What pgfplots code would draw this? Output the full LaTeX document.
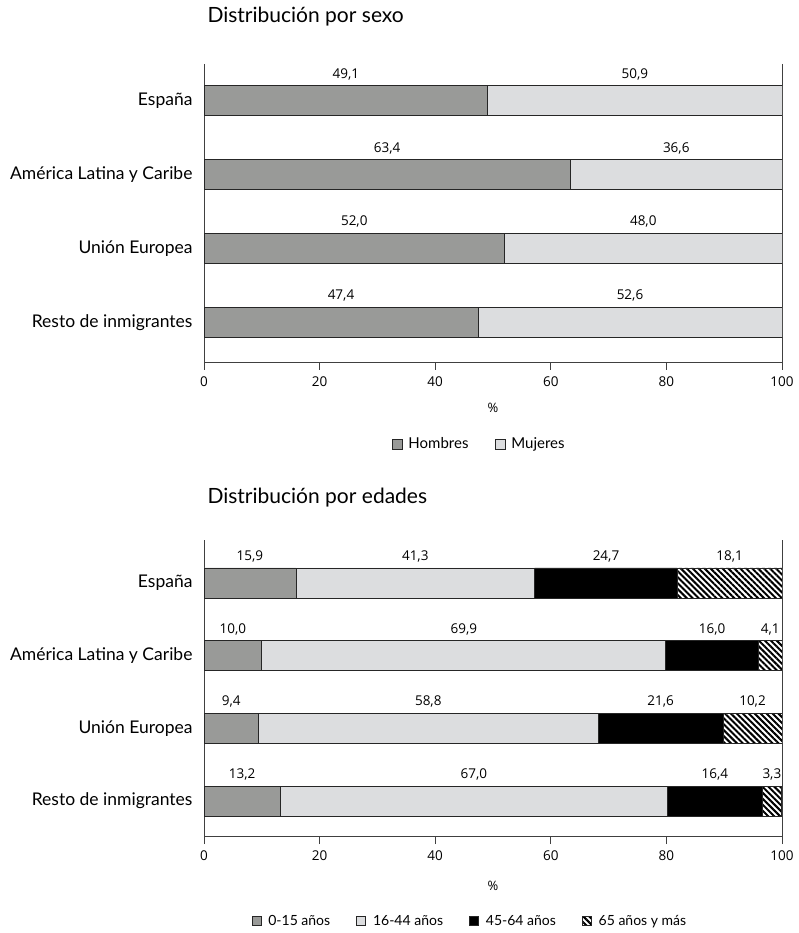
\documentclass[border=0pt]{standalone}
\usepackage{pgfplots}
\pgfplotsset{compat=1.18}
\usepackage{pgfplotstable}
\usepackage{fontspec}
\setmainfont{Lato}
\newfontfamily\numfont{Open Sans}
\usetikzlibrary{patterns.meta}

\definecolor{gmed}{RGB}{153,154,152}
\definecolor{glight}{RGB}{220,221,223}

% distribución por sexo (0 = España, arriba)
\pgfplotstableread{
y h m
0 49.1 50.9
1 63.4 36.6
2 52.0 48.0
3 47.4 52.6
}\sexo

% distribución por edades
\pgfplotstableread{
y a b c d
0 15.9 41.3 24.7 18.1
1 10.0 69.9 16.0 4.1
2 9.4 58.8 21.6 10.2
3 13.2 67.0 16.4 3.3
}\edad

\pgfplotsset{
  base/.style={
    width=578pt, height=298pt, scale only axis,
    xbar stacked, bar width=30pt,
    xmin=0, xmax=100, ymin=-0.5, ymax=3.54, y dir=reverse,
    axis x line*=bottom, axis y line*=left,
    axis line style={-, black!75, line width=0.8pt},
    xtick={0,20,...,100}, xtick align=outside, major tick length=8pt,
    xtick style={black!75, line width=0.8pt},
    extra x ticks={100}, extra x tick labels={},
    extra x tick style={grid=major, major grid style={black!75, line width=0.8pt}, tick style={draw=none}},
    ytick={0,1,2,3}, ytick style={draw=none},
    yticklabels={Espa\~na\hspace{13pt}, Am\'erica Latina y Caribe, Uni\'on Europea\hspace{6pt}, Resto de inmigrantes},
    yticklabel style={font=\fontsize{17.5}{20}\selectfont, xshift=-8pt},
    xticklabel style={font=\numfont\fontsize{13.5}{16}\selectfont, yshift=-3pt},
    /pgf/number format/assume math mode=true,
    xlabel={\%},
    xlabel style={font=\numfont\fontsize{13}{16}\selectfont},
    title style={font=\fontsize{21}{25}\selectfont, at={(axis description cs:0,1)}, anchor=base west},
    legend style={draw=none, font=\fontsize{15}{18}\selectfont, legend columns=-1,
      /tikz/every even column/.append style={column sep=24pt},
      /tikz/every odd column/.append style={column sep=4pt}},
    legend image code/.code={\draw[#1, draw=black!85, line width=0.8pt] (0pt,-5pt) rectangle (10pt,5pt);},
  },
  % pgfplots sets each stacked label at the middle of its segment
  seg/.style={
    point meta=\thisrow{#1},
    nodes near coords={\pgfmathprintnumber[fixed,fixed zerofill,precision=1,use comma,assume math mode=true]{\pgfplotspointmeta}},
    every node near coord/.append style={font=\numfont\fontsize{13.5}{16}\selectfont, text=black,
      anchor=south, yshift=17pt},
    draw=black!85, line width=0.8pt,
  },
}

\begin{document}
\begin{tikzpicture}
\useasboundingbox (0,0) rectangle (798pt,933pt);

\begin{axis}[base, at={(204pt,571pt)}, anchor=south west,
  title={Distribuci\'on por sexo}, title style={yshift=35pt},
  xlabel style={at={(axis description cs:0.5,-0.155)}, anchor=center},
  legend style={at={(0.476,-0.275)}, anchor=center}]
\addplot[seg=h, fill=gmed] table[x=h, y=y]{\sexo};
\addplot[seg=m, fill=glight] table[x=m, y=y]{\sexo};
\legend{Hombres, Mujeres}
\end{axis}

\begin{axis}[base, at={(204pt,97pt)}, anchor=south west, height=296pt,
  ymin=-0.59, ymax=3.48,
  title={Distribuci\'on por edades}, title style={yshift=31pt},
  xlabel style={at={(axis description cs:0.5,-0.169)}, anchor=center},
  legend image code/.code={\draw[#1, draw=black!85, line width=0.8pt] (0pt,-4.5pt) rectangle (9pt,4.5pt);},
  legend style={at={(0.46,-0.287)}, anchor=center, font=\fontsize{14}{17}\selectfont,
    /tikz/every even column/.append style={column sep=24pt},
    /tikz/every odd column/.append style={column sep=5pt}}]
\addplot[seg=a, fill=gmed] table[x=a, y=y]{\edad};
\addplot[seg=b, fill=glight] table[x=b, y=y]{\edad};
\addplot[seg=c, fill=black] table[x=c, y=y]{\edad};
\addplot[seg=d, fill=white, postaction={pattern={Lines[angle=-45, distance=4.2pt, line width=2pt]}}] table[x=d, y=y]{\edad};
\legend{0-15 a\~nos, 16-44 a\~nos, 45-64 a\~nos, 65 a\~nos y m\'as}
\end{axis}
\end{tikzpicture}
\end{document}
